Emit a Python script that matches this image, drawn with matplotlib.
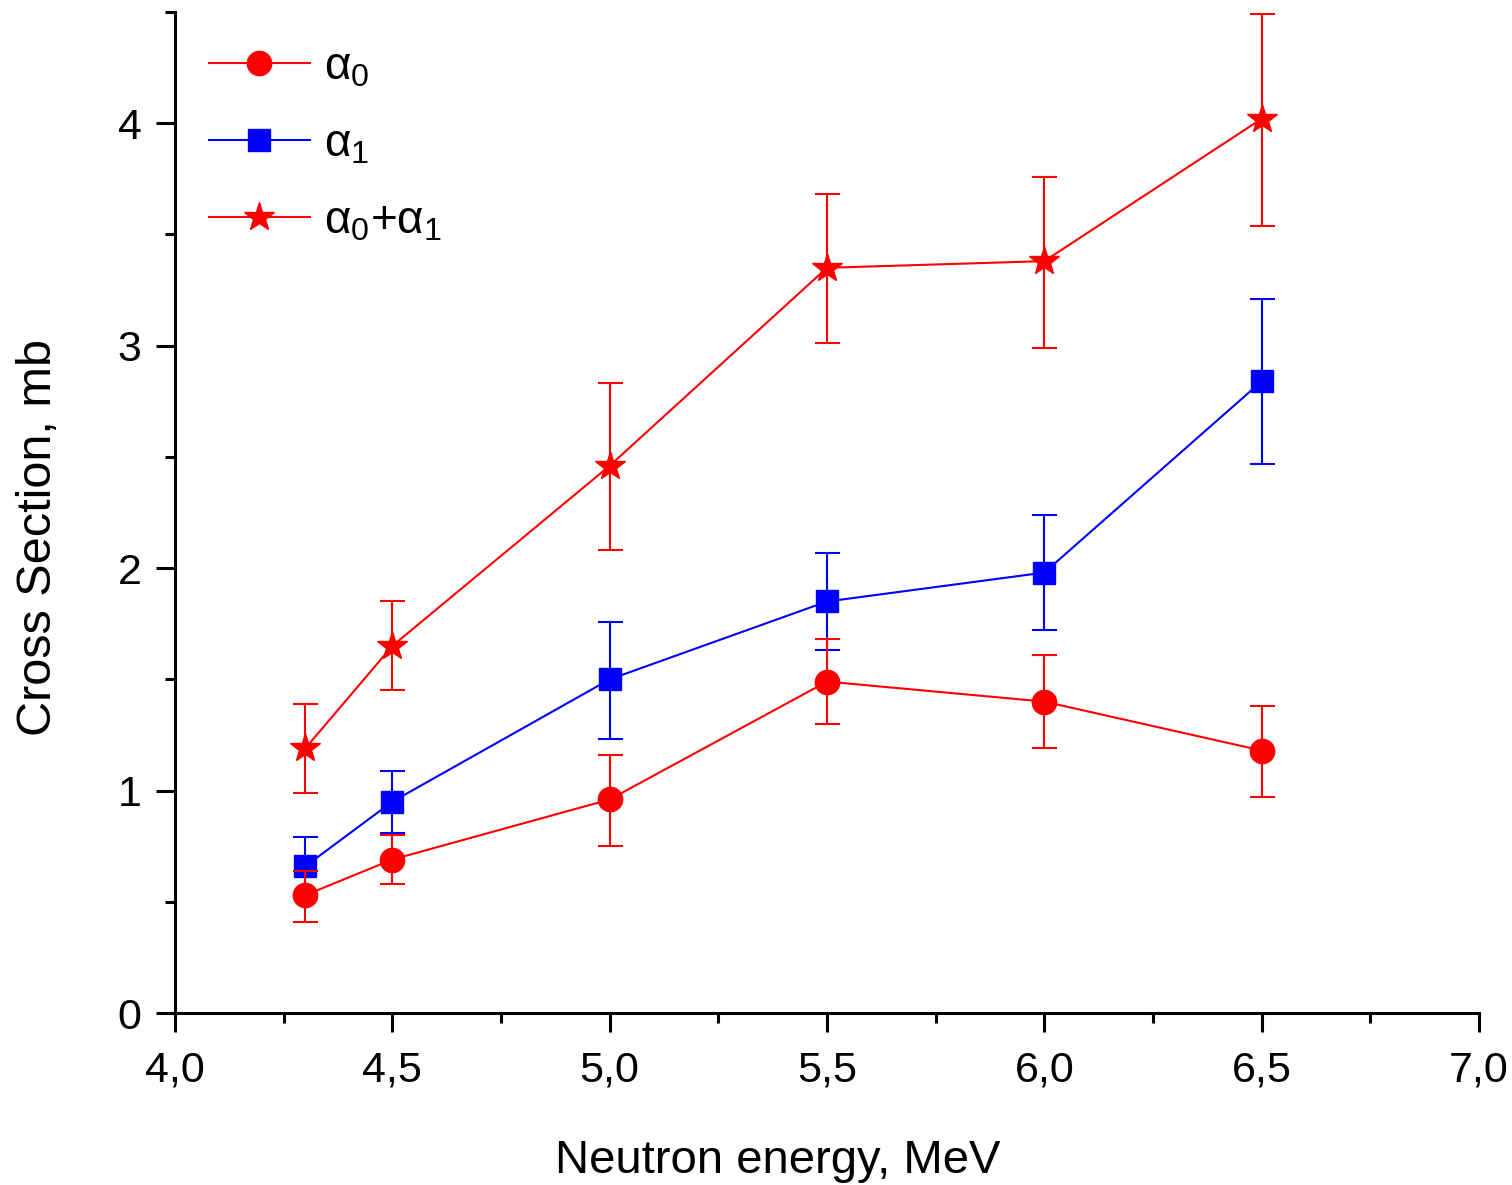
import matplotlib
matplotlib.use("Agg")
import matplotlib.pyplot as plt
from matplotlib.ticker import MultipleLocator, FuncFormatter
from matplotlib.lines import Line2D

plt.rcParams['font.family'] = ['Liberation Sans', 'DejaVu Sans']
plt.rcParams['mathtext.fontset'] = 'custom'
plt.rcParams['mathtext.rm'] = 'Liberation Sans'
plt.rcParams['mathtext.it'] = 'Liberation Sans'

# neutron energy, MeV
energy = [4.3, 4.5, 5.0, 5.5, 6.0, 6.5]

# alpha0
a0 = [0.53, 0.69, 0.96, 1.49, 1.40, 1.18]
a0_lo = [0.41, 0.58, 0.75, 1.30, 1.19, 0.97]
a0_hi = [0.64, 0.80, 1.16, 1.68, 1.61, 1.38]

# alpha1
a1 = [0.66, 0.95, 1.50, 1.85, 1.98, 2.84]
a1_lo = [0.52, 0.81, 1.23, 1.63, 1.72, 2.47]
a1_hi = [0.79, 1.09, 1.76, 2.07, 2.24, 3.21]

# alpha0 + alpha1
a01 = [1.19, 1.65, 2.46, 3.35, 3.38, 4.02]
a01_lo = [0.99, 1.45, 2.08, 3.01, 2.99, 3.54]
a01_hi = [1.39, 1.85, 2.83, 3.68, 3.76, 4.49]

labels = ['α$_0$', 'α$_1$', 'α$_0$+α$_1$']


def yerr(v, lo, hi):
    return [[a - b for a, b in zip(v, lo)], [c - a for a, c in zip(v, hi)]]


fig = plt.figure(figsize=(15.12, 11.85), dpi=100)
ax = fig.add_axes([0.1157, 0.1451, 0.8625, 0.8448])

common = dict(lw=1.5, elinewidth=1.5, capsize=9, capthick=1.5)
ax.errorbar(energy, a0, yerr=yerr(a0, a0_lo, a0_hi), color='#ff0000',
            marker='o', ms=17.5, zorder=3, **common)
ax.errorbar(energy, a1, yerr=yerr(a1, a1_lo, a1_hi), color='#0000ff',
            marker='s', ms=16, zorder=2, **common)
ax.errorbar(energy, a01, yerr=yerr(a01, a01_lo, a01_hi), color='#ff0000',
            marker='*', ms=22, zorder=4, **common)

ax.set_xlim(4.0, 7.0)
ax.set_ylim(0, 4.5)
ax.xaxis.set_major_locator(MultipleLocator(0.5))
ax.xaxis.set_minor_locator(MultipleLocator(0.25))
ax.yaxis.set_major_locator(MultipleLocator(1))
ax.yaxis.set_minor_locator(MultipleLocator(0.5))
ax.xaxis.set_major_formatter(FuncFormatter(lambda v, p: f"{v:.1f}".replace('.', ',')))
ax.yaxis.set_major_formatter(FuncFormatter(lambda v, p: f"{v:.0f}"))

for s in ['top', 'right']:
    ax.spines[s].set_visible(False)
for s in ['left', 'bottom']:
    ax.spines[s].set_linewidth(2.2)

ax.tick_params(which='major', direction='out', length=14, width=2.2,
               labelsize=31, pad=10)
ax.tick_params(axis='x', which='major', pad=13)
ax.tick_params(which='minor', direction='out', length=7, width=2.2)

ax.set_xlabel('Neutron energy, MeV', fontsize=34, labelpad=35)
ax.set_ylabel('Cross Section, mb', fontsize=35, labelpad=41)
ax.xaxis.label.set_x(0.462)
ax.yaxis.label.set_y(0.475)

handles = [
    Line2D([], [], color='#ff0000', lw=1.5, marker='o', ms=17.5),
    Line2D([], [], color='#0000ff', lw=1.5, marker='s', ms=16),
    Line2D([], [], color='#ff0000', lw=1.5, marker='*', ms=22),
]
ax.legend(handles, labels, loc='upper left', frameon=False, fontsize=33,
          handlelength=2.2, handletextpad=0.3, labelspacing=0.72,
          borderaxespad=0.0, bbox_to_anchor=(0.012, 0.985))

fig.savefig('out.png', dpi=100)
